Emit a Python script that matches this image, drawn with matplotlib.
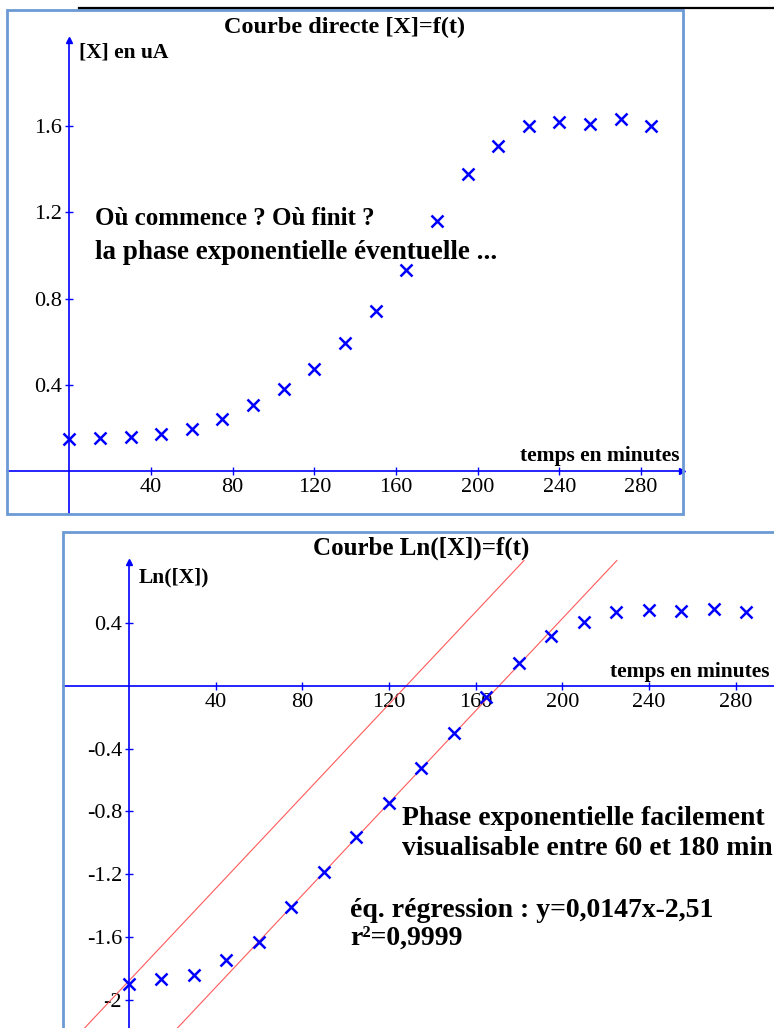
import numpy as np
import matplotlib.pyplot as plt
from matplotlib.patches import Rectangle
from matplotlib.lines import Line2D

plt.rcParams['font.family'] = ['Liberation Serif', 'DejaVu Serif']

# data
temps = [0, 15, 30, 45, 60, 75, 90, 105, 120, 135, 150, 165, 180, 195, 210, 225, 240, 255, 270, 285]
conc_x = [0.150, 0.154, 0.158, 0.174, 0.196, 0.244, 0.305, 0.381, 0.473, 0.594, 0.741, 0.931,
          1.158, 1.378, 1.507, 1.600, 1.620, 1.610, 1.632, 1.600]
ln_x = np.log(conc_x)

x_ticks = [40, 80, 120, 160, 200, 240, 280]
y_ticks_top = [0.4, 0.8, 1.2, 1.6]
y_labels_top = ['0.4', '0.8', '1.2', '1.6']
y_ticks_bot = [0.4, -0.4, -0.8, -1.2, -1.6, -2]
y_labels_bot = ['0.4', '-0.4', '-0.8', '-1.2', '-1.6', '-2']

# regression line and its parallel through the first point
pente = 0.0147
ordonnees = [-2.51, -1.88]

BLUE = '#0000ff'
FRAME = '#6b9ad4'


def setup_axes(ax, xlim, ylim, ytop, yticks, ylabels):
    ax.set_xlim(*xlim)
    ax.set_ylim(*ylim)
    for s in ['top', 'right']:
        ax.spines[s].set_visible(False)
    ax.spines['left'].set_position(('data', 0))
    ax.spines['bottom'].set_position(('data', 0))
    ax.spines['left'].set_bounds(ylim[0], ytop)
    ax.spines['bottom'].set_bounds(xlim[0], 300)
    for s in ['left', 'bottom']:
        ax.spines[s].set_color(BLUE)
        ax.spines[s].set_linewidth(1.2)
    ax.set_xticks(x_ticks)
    ax.set_xticklabels([str(t) for t in x_ticks])
    ax.set_yticks(yticks)
    ax.set_yticklabels(ylabels)
    ax.tick_params(direction='inout', length=6, width=1, color=BLUE, labelsize=16, pad=2)
    ax.plot(300, 0, marker='>', color=BLUE, ms=5, clip_on=False)
    ax.plot(0, ytop, marker='^', color=BLUE, ms=5, clip_on=False)
    ax.add_patch(Rectangle((0, 0), 1, 1, transform=ax.transAxes, fill=False,
                           ec=FRAME, lw=2, clip_on=False, zorder=5))


fig = plt.figure(figsize=(7.74, 10.28), dpi=100)
fig.add_artist(Line2D([79 / 774, 1], [1 - 8.3 / 1028] * 2, color='black', lw=1.6))

# ---- courbe directe
ax1 = fig.add_axes([7.3 / 774, 1 - 514 / 1028, (682.5 - 7.3) / 774, (514 - 10.3) / 1028])
setup_axes(ax1, (-30.4, 300.3), (-0.198, 2.136), 2.0, y_ticks_top, y_labels_top)
ax1.plot(temps, conc_x, 'x', color=BLUE, ms=9, mew=1.8, clip_on=False)
ax1.text(0.5, 0.966, 'Courbe directe [X]=f(t)', transform=ax1.transAxes, ha='center',
         va='center', fontsize=17.5, fontweight='bold')
ax1.text(4.8, 1.94, '[X] en uA', ha='left', va='center', fontsize=15.5, fontweight='bold')
ax1.text(299, 0.047, 'temps en minutes', ha='right', va='baseline', fontsize=15.5, fontweight='bold')
ax1.text(12.6, 1.14, 'Où commence ? Où finit ?', ha='left', va='baseline', fontsize=18, fontweight='bold')
ax1.text(12.6, 0.985, 'la phase exponentielle éventuelle ...', ha='left', va='baseline',
         fontsize=19.5, fontweight='bold')

# ---- courbe Ln
ax2 = fig.add_axes([63.3 / 774, 1 - 1031 / 1028, (779 - 63.3) / 774, (1031 - 532.3) / 1028])
setup_axes(ax2, (-30.3, 300), (-2.2, 0.98), 0.79, y_ticks_bot, y_labels_bot)
for b in ordonnees:
    xs = np.array([-40, (0.8 - b) / pente])
    ax2.plot(xs, pente * xs + b, color='#ff5a5a', lw=0.8, zorder=2)
ax2.plot(temps, ln_x, 'x', color=BLUE, ms=9, mew=1.8, zorder=3)
ax2.text(0.5, 0.968, 'Courbe Ln([X])=f(t)', transform=ax2.transAxes, ha='center',
         va='center', fontsize=18, fontweight='bold')
ax2.text(4.3, 0.69, 'Ln([X])', ha='left', va='center', fontsize=15.5, fontweight='bold')
ax2.text(222, 0.06, 'temps en minutes', ha='left', va='baseline', fontsize=15.5, fontweight='bold')
ax2.text(125.8, -0.887, 'Phase exponentielle facilement', ha='left', va='baseline',
         fontsize=20, fontweight='bold')
ax2.text(125.8, -1.078, 'visualisable entre 60 et 180 min', ha='left', va='baseline',
         fontsize=20, fontweight='bold')
ax2.text(102, -1.471, 'éq. régression : y=0,0147x-2,51', ha='left', va='baseline',
         fontsize=20, fontweight='bold')
ax2.text(102, -1.65, 'r²=0,9999', ha='left', va='baseline', fontsize=20, fontweight='bold')

fig.savefig('out.png', dpi=100)
